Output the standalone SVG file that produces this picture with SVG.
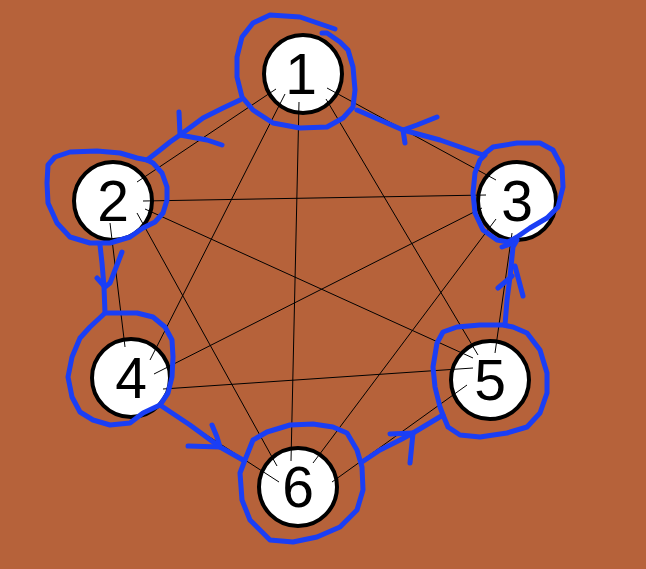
<svg xmlns="http://www.w3.org/2000/svg" width="646" height="569" viewBox="0 0 646 569">
<style>
.node circle{fill:#fff;stroke:#000;stroke-width:4}
.node text{font-family:"Liberation Sans",Arial,sans-serif;font-size:57px;text-anchor:middle;fill:#000}
.edge{stroke:#000;stroke-width:1;fill:none}
.ink{stroke:#1a3ef5;stroke-width:5;fill:none;stroke-linecap:round;stroke-linejoin:round}
</style>
<rect width="646" height="569" fill="#b6623a"/>
<g id="node-1" class="node"><circle cx="303" cy="74" r="39"/><text x="301" y="94">1</text></g>
<g id="node-2" class="node"><circle cx="113" cy="201" r="39"/><text x="113" y="221">2</text></g>
<g id="node-3" class="node"><circle cx="517" cy="201" r="39"/><text x="517" y="221">3</text></g>
<g id="node-4" class="node"><circle cx="131" cy="378" r="39"/><text x="131" y="398">4</text></g>
<g id="node-5" class="node"><circle cx="490" cy="380" r="39"/><text x="490" y="400">5</text></g>
<g id="node-6" class="node"><circle cx="298" cy="487" r="39"/><text x="298" y="507">6</text></g>
<g id="connectors">
<line class="edge" x1="276" y1="89" x2="137" y2="182"/>
<line class="edge" x1="327" y1="88" x2="496" y2="180"/>
<line class="edge" x1="285" y1="94" x2="150" y2="360"/>
<line class="edge" x1="326" y1="99" x2="478" y2="355"/>
<line class="edge" x1="299" y1="102" x2="291" y2="461"/>
<line class="edge" x1="143" y1="201" x2="486" y2="195"/>
<line class="edge" x1="110" y1="223" x2="125" y2="347"/>
<line class="edge" x1="145" y1="209" x2="473" y2="358"/>
<line class="edge" x1="137" y1="213" x2="277" y2="466"/>
<line class="edge" x1="482" y1="208" x2="154" y2="374"/>
<line class="edge" x1="512" y1="233" x2="495" y2="353"/>
<line class="edge" x1="496" y1="219" x2="313" y2="463"/>
<line class="edge" x1="163" y1="389" x2="473" y2="368"/>
<line class="edge" x1="160" y1="405" x2="279" y2="482"/>
<line class="edge" x1="467" y1="385" x2="332" y2="482"/>
</g>
<g id="cycle">
<polyline class="ink" points="335,29 300,17 270,15 253,23 242,37 237,57 237,77 242,97 253,110 273,123 300,128 327,127 343,118 353,107 355,90 353,67 348,50 340,42 327,33 322,33"/>
<polyline class="ink" points="240,100 223,108 203,118 180,135 170,142 160,150 147,160"/>
<polyline class="ink" points="179,112 180,135 207,140 222,145"/>
<polyline class="ink" points="147,160 137,158 120,153 97,151 70,152 55,157 48,165 47,183 48,203 57,223 70,237 90,243 110,243 130,237 143,228 155,222 163,213 167,200 167,187 162,173 153,163 147,160"/>
<polyline class="ink" points="100,245 102,263 104,287 105,313"/>
<polyline class="ink" points="97,278 105,287 110,283 122,252"/>
<polyline class="ink" points="105,313 137,313 153,317 165,327 172,340 173,357 172,377 168,393 160,405 143,413 130,423 110,425 93,420 80,412 72,397 68,377 72,357 80,338 90,327 105,313"/>
<polyline class="ink" points="160,405 190,425 220,447 243,460"/>
<polyline class="ink" points="212,425 217,437 220,447 188,446"/>
<polyline class="ink" points="245,460 240,473 242,500 250,520 270,540 293,542 317,537 340,527 357,510 363,490 362,467 357,450 347,433 333,427 313,424 290,425 267,432 253,440 247,455 245,460"/>
<polyline class="ink" points="362,462 380,450 400,440 413,433 443,415"/>
<polyline class="ink" points="390,434 413,433 410,463"/>
<polyline class="ink" points="443,415 448,427 460,435 480,437 507,433 527,427 540,413 547,393 547,373 540,350 527,333 513,327 503,325 480,325 457,327 443,332 437,343 433,367 435,387 440,407 443,415"/>
<polyline class="ink" points="505,325 507,300 510,277 513,247 517,240"/>
<polyline class="ink" points="498,288 512,276"/>
<polyline class="ink" points="515,266 523,296"/>
<polyline class="ink" points="502,247 513,243"/>
<polyline class="ink" points="483,155 493,147 517,143 540,143 553,150 562,167 563,187 558,207 547,218 530,228 517,237 508,242 497,240 483,230 475,213 473,193 475,173 480,160 485,155"/>
<polyline class="ink" points="483,155 440,140 403,130 380,120 357,110"/>
<polyline class="ink" points="437,117 417,125 403,130 405,143"/>
</g>
</svg>
